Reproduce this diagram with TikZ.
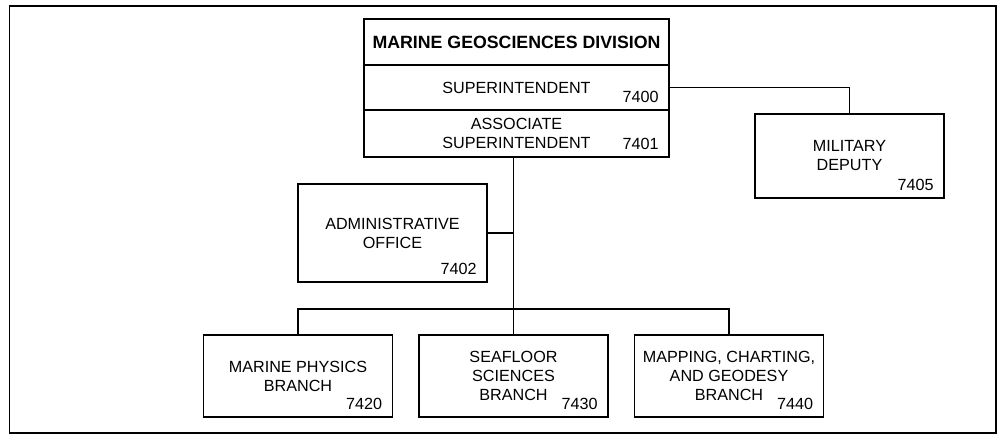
\documentclass[tikz,border=0pt]{standalone}
\usepackage{fontspec}
\setmainfont{Liberation Sans}
\tikzset{
  unit/.style={draw, line width=0.6pt, align=center, inner sep=0pt, outer sep=0pt,
    font=\fontsize{9.2}{10.8}\selectfont},
  code/.style={anchor=south east, inner sep=0pt, xshift=-2mm, yshift=1.4mm,
    font=\fontsize{9.2}{10.8}\selectfont},
  link/.style={line width=0.6pt},
}

\begin{document}
\begin{tikzpicture}[x=0.2mm, y=-0.2mm]

\useasboundingbox (0,0) rectangle (1005,435);
\draw [line width=1.1pt] (9.5,6) rectangle (996,433);

% division head, three stacked rows
\node [unit, minimum width=61mm, minimum height=9.2mm,
  font=\bfseries\fontsize{10.1}{12}\selectfont] (div) at (516.5,42) {MARINE GEOSCIENCES DIVISION};
\node [unit, minimum width=61mm, minimum height=9mm] (sup) at (516.5,87.5) {SUPERINTENDENT};
\node [code] (sup-no) at (sup.south east) {7400};
\node [unit, minimum width=61mm, minimum height=9.4mm] (assoc) at (516.5,133.5) {ASSOCIATE\\SUPERINTENDENT};
\node [code] (assoc-no) at (assoc.south east) {7401};

\node [unit, minimum width=37.8mm, minimum height=16.8mm] (mil) at (849.5,156) {MILITARY\\DEPUTY};
\node [code] (mil-no) at (mil.south east) {7405};

\node [unit, minimum width=37.8mm, minimum height=19.6mm] (admin) at (392.5,233) {ADMINISTRATIVE\\OFFICE};
\node [code] (admin-no) at (admin.south east) {7402};

% branches
\foreach \lbl/\c [count=\i] in {{MARINE PHYSICS\\BRANCH}/7420,
    {SEAFLOOR\\SCIENCES\\BRANCH}/7430,
    {MAPPING, CHARTING,\\AND GEODESY\\BRANCH}/7440} {
  \node [unit, minimum width=37.8mm, minimum height=16.4mm] (branch-\i) at (298+\i*215.5-215.5,376) {\lbl};
  \node [code] (branch-\i-no) at (branch-\i.south east) {\c};
}

\coordinate (bus) at (513.5,309);

\draw [link] (sup.east) -| (mil.north);
\draw [link] (assoc.south -| branch-2.north) -- (branch-2.north);
\draw [link] (admin.east) -- (admin.east -| branch-2.north);
\draw [link] (branch-1.north) |- (bus) -| (branch-3.north);

\end{tikzpicture}
\end{document}
